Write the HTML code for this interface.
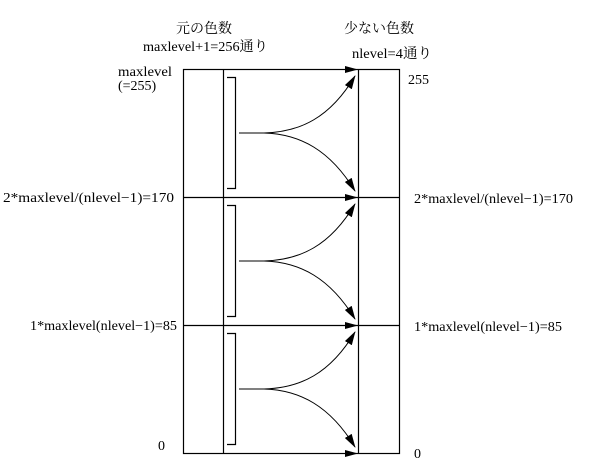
<!DOCTYPE html>
<html><head><meta charset="utf-8"><style>
html,body{margin:0;padding:0;background:#fff;}
svg{display:block;}
text{font-family:"Liberation Serif","Noto Serif CJK SC","Noto Sans CJK JP",serif;font-size:14px;fill:#000;}
</style></head><body>
<svg width="604" height="473" viewBox="0 0 604 473" xmlns="http://www.w3.org/2000/svg">
<defs>
<marker id="ah" markerWidth="14" markerHeight="8" refX="13" refY="4" orient="auto" markerUnits="userSpaceOnUse">
<path d="M0,0 L14,4 L0,8 Z" fill="#000"/>
</marker>
</defs>
<g stroke="#000" stroke-width="1.2" fill="none">
<rect x="183.5" y="69.5" width="216" height="384"/>
<line x1="223.5" y1="69" x2="223.5" y2="454"/>
<line x1="358.5" y1="69" x2="358.5" y2="454"/>
<line x1="183" y1="197.5" x2="400" y2="197.5"/>
<line x1="183" y1="325.5" x2="400" y2="325.5"/>
<path d="M227,77.5 H235.5 V188.5 H227"/>
<path d="M227,205.5 H235.5 V316.5 H227"/>
<path d="M227,333.5 H235.5 V444.5 H227"/>
</g>
<g fill="#000">
<path d="M345,66 L358,69.5 L345,73 Z"/>
<path d="M345,194 L358,197.5 L345,201 Z"/>
<path d="M345,322 L358,325.5 L345,329 Z"/>
<path d="M345,450 L358,453.5 L345,457 Z"/>
</g>
<g stroke="#000" stroke-width="1" fill="none" marker-end="url(#ah)">
<path d="M239,133 H264 C300,132 330,118 355,76"/>
<path d="M239,133 H264 C300,134 330,150 355,191"/>
<path d="M239,261 H264 C300,260 330,246 355,204"/>
<path d="M239,261 H264 C300,262 330,278 355,319"/>
<path d="M239,389 H264 C300,388 330,374 355,332"/>
<path d="M239,389 H264 C300,390 330,406 355,447"/>
</g>
<text x="176" y="33" font-size="15">元の色数</text>
<text x="143" y="51" textLength="125" lengthAdjust="spacingAndGlyphs">maxlevel+1=256通り</text>
<text x="344" y="33" font-size="15">少ない色数</text>
<text x="352" y="58" textLength="80" lengthAdjust="spacingAndGlyphs">nlevel=4通り</text>
<text x="118" y="76" textLength="54" lengthAdjust="spacingAndGlyphs">maxlevel</text>
<text x="118" y="90">(=255)</text>
<text x="408" y="84">255</text>
<text x="3" y="202" textLength="171" lengthAdjust="spacingAndGlyphs">2*maxlevel/(nlevel−1)=170</text>
<text x="414" y="203" textLength="159" lengthAdjust="spacingAndGlyphs">2*maxlevel/(nlevel−1)=170</text>
<text x="30" y="330" textLength="147" lengthAdjust="spacingAndGlyphs">1*maxlevel(nlevel−1)=85</text>
<text x="414" y="331" textLength="148" lengthAdjust="spacingAndGlyphs">1*maxlevel(nlevel−1)=85</text>
<text x="158" y="450">0</text>
<text x="414" y="458">0</text>
</svg>
</body></html>
